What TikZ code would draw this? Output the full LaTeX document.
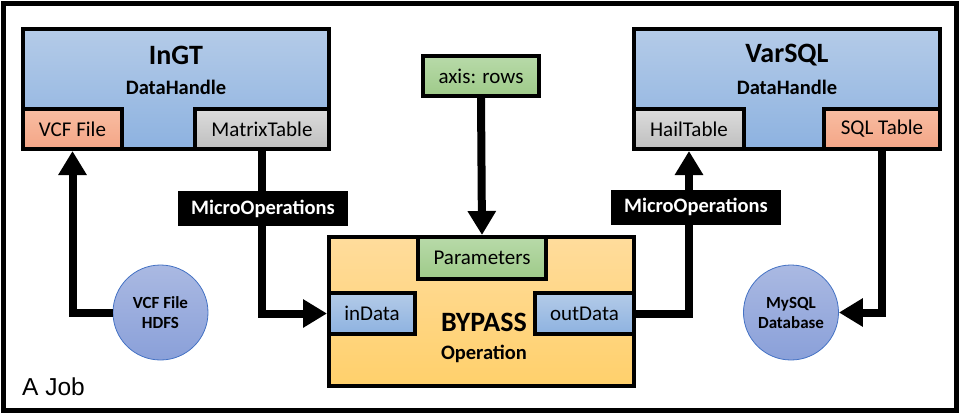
\documentclass[tikz,border=0pt]{standalone}
\usepackage{fontspec}
\setmainfont{Carlito}
\newfontfamily\jobfont{Liberation Sans}
\usetikzlibrary{arrows.meta}

\definecolor{handletop}{HTML}{B4CBE8}
\definecolor{handlebot}{HTML}{8DB2E0}
\definecolor{filetop}{HTML}{F8BDA2}
\definecolor{filebot}{HTML}{F4A586}
\definecolor{tabletop}{HTML}{DCDCDC}
\definecolor{tablebot}{HTML}{BEBEBE}
\definecolor{paramtop}{HTML}{B8DAA9}
\definecolor{parambot}{HTML}{9ECA89}
\definecolor{optop}{HTML}{FFDC9C}
\definecolor{opbot}{HTML}{FFD06B}
\definecolor{storetop}{HTML}{AAB9E2}
\definecolor{storebot}{HTML}{8AA0D9}
\definecolor{storeline}{HTML}{4472C4}

\tikzset{
  box/.style={draw=black, line width=4pt, inner sep=0pt},
  handle/.style={box, top color=handletop, bottom color=handlebot},
  filebox/.style={box, top color=filetop, bottom color=filebot},
  tablebox/.style={box, top color=tabletop, bottom color=tablebot},
  parambox/.style={box, top color=paramtop, bottom color=parambot},
  opbox/.style={box, top color=optop, bottom color=opbot},
  portbox/.style={box, top color=handletop, bottom color=handlebot},
  store/.style={circle, draw=storeline, line width=0.8pt, minimum size=95pt, inner sep=0pt,
    top color=storetop, bottom color=storebot, align=center,
    font=\fontsize{17}{20}\selectfont\bfseries},
  title/.style={inner sep=0pt, font=\fontsize{28}{30}\selectfont\bfseries},
  kind/.style={inner sep=0pt, font=\fontsize{20.5}{22}\selectfont\bfseries},
  port/.style={font=\fontsize{21}{23}\selectfont},
  micro/.style={fill=black, text=white, inner xsep=13pt, inner ysep=0pt, minimum height=35pt,
    font=\fontsize{20.5}{22}\selectfont\bfseries},
  conn/.style={line width=8pt, -{Triangle[length=24pt,width=27pt]}}
}

\begin{document}
\begin{tikzpicture}[x=1pt,y=-1pt]
	\useasboundingbox (0,0) rectangle (962,416);
	% рамка задания
	\draw [line width=5pt] (3,3.5) rectangle (956,410.5);
	\node [anchor=base west, inner sep=0pt, font=\jobfont\fontsize{24.5}{26}\selectfont] (job) at (22,395) {A Job};

	% InGT
	\node [handle, minimum width=306pt, minimum height=120pt] (ingt) at (176,89) {};
	\node [title] (ingtname) at (176,55) {InGT};
	\node [kind] (ingtkind) at (176,87) {DataHandle};
	\node [filebox, port, minimum width=99pt, minimum height=40pt] (vcf) at (72.5,129) {VCF File};
	\node [tablebox, port, minimum width=134pt, minimum height=40pt] (mtable) at (262,129) {MatrixTable};

	% VarSQL
	\node [handle, minimum width=306pt, minimum height=120pt] (varsql) at (787,89) {};
	\node [title] (varsqlname) at (787,55) {VarSQL};
	\node [kind] (varsqlkind) at (787,87) {DataHandle};
	\node [tablebox, port, minimum width=110pt, minimum height=40pt] (hail) at (689,129) {HailTable};
	\node [filebox, port, minimum width=116pt, minimum height=40pt] (sqlt) at (882,129) {SQL Table};

	% параметры
	\node [parambox, port, minimum width=116pt, minimum height=40pt] (axis) at (481,76) {axis: rows};

	% BYPASS
	\node [opbox, minimum width=305pt, minimum height=149pt] (bypass) at (481.5,311.5) {};
	\node [title] (bypassname) at (484,322) {BYPASS};
	\node [kind] (bypasskind) at (484,354) {Operation};
	\node [parambox, port, minimum width=128pt, minimum height=42pt] (params) at (482,258) {Parameters};
	\node [portbox, port, minimum width=86pt, minimum height=41pt] (indata) at (372,313.5) {inData};
	\node [portbox, port, minimum width=99pt, minimum height=41pt] (outdata) at (584.5,313.5) {outData};

	% хранилища
	\node [store] (hdfs) at (160.5,312.5) {VCF File\\HDFS};
	\node [store] (mysql) at (791,312.5) {MySQL\\Database};

	% связи
	\draw [conn] (hdfs.west) -| (vcf.south);
	\draw [conn] (mtable.south) |- (indata.west);
	\draw [conn] (axis.south) -- (params.north);
	\draw [conn] (outdata.east) -| (hail.south);
	\draw [conn] (sqlt.south) |- (mysql.east);

	\node [micro] (microin) at (263,208.5) {MicroOperations};
	\node [micro] (microout) at (696,207) {MicroOperations};
\end{tikzpicture}
\end{document}
